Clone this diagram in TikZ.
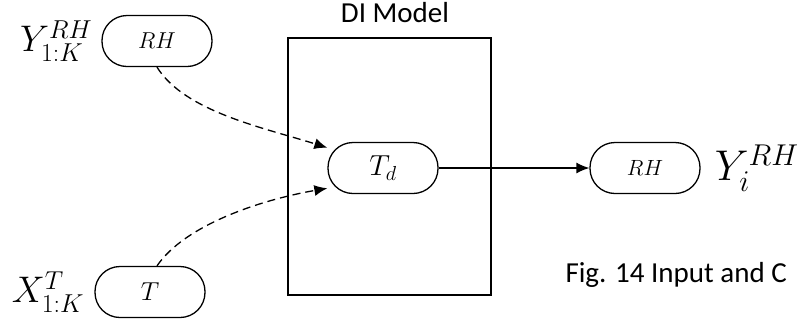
\RequirePackage{fix-cm}
\documentclass[tikz,border=0pt]{standalone}
\usepackage{fontspec}
\setmainfont{Carlito}
\usetikzlibrary{arrows.meta,positioning}

\begin{document}
\begin{tikzpicture}[x=1pt,y=-1pt,>={Latex[length=13pt,width=11pt]},
  pill/.style={draw,line width=1.3pt,rounded corners=25pt,minimum width=110pt,
    minimum height=51pt,inner sep=0pt},
  flow/.style={->,line width=1.3pt,dash pattern=on 8pt off 5pt},
  varlabel/.style={inner sep=0pt,font=\fontsize{37}{44}\selectfont}]
  \useasboundingbox (0,0) rectangle (798,325);
  \node[draw,line width=1.3pt,minimum width=203pt,minimum height=257pt] (box) at (389.5,166.5) {};
  \node[font=\fontsize{29}{34}\selectfont] (title) at (395,13) {DI Model};
  \node[pill,font=\fontsize{23}{27}\selectfont] (rhin) at (157,41) {$RH$};
  \node[pill,font=\fontsize{26}{30}\selectfont] (tin) at (150,292) {$T$};
  \node[pill,font=\fontsize{29}{34}\selectfont] (td) at (383,168) {$T_d$};
  \node[pill,font=\fontsize{22}{26}\selectfont] (rhout) at (645,168) {$RH$};
  \node[varlabel,left=9pt of rhin] (ylab) {$Y^{RH}_{1:K}$};
  \node[varlabel,left=10pt of tin] (xlab) {$X^{T}_{1:K}$};
  \node[varlabel,right=14pt of rhout,font=\fontsize{43}{50}\selectfont] (yout) {$Y^{RH}_{i}$};
  \node[anchor=base west,font=\fontsize{29}{34}\selectfont] (cap) at (562,282) {Fig. 14 Input and C};
  \draw[flow] (rhin.south) .. controls (185,112) and (265,128) .. (td.160);
  \draw[flow] ([xshift=7pt]tin.north) .. controls (185,225) and (260,200) .. (td.200);
  \draw[->,line width=1.3pt] (td.east) -- (rhout.west);
\end{tikzpicture}
\end{document}
